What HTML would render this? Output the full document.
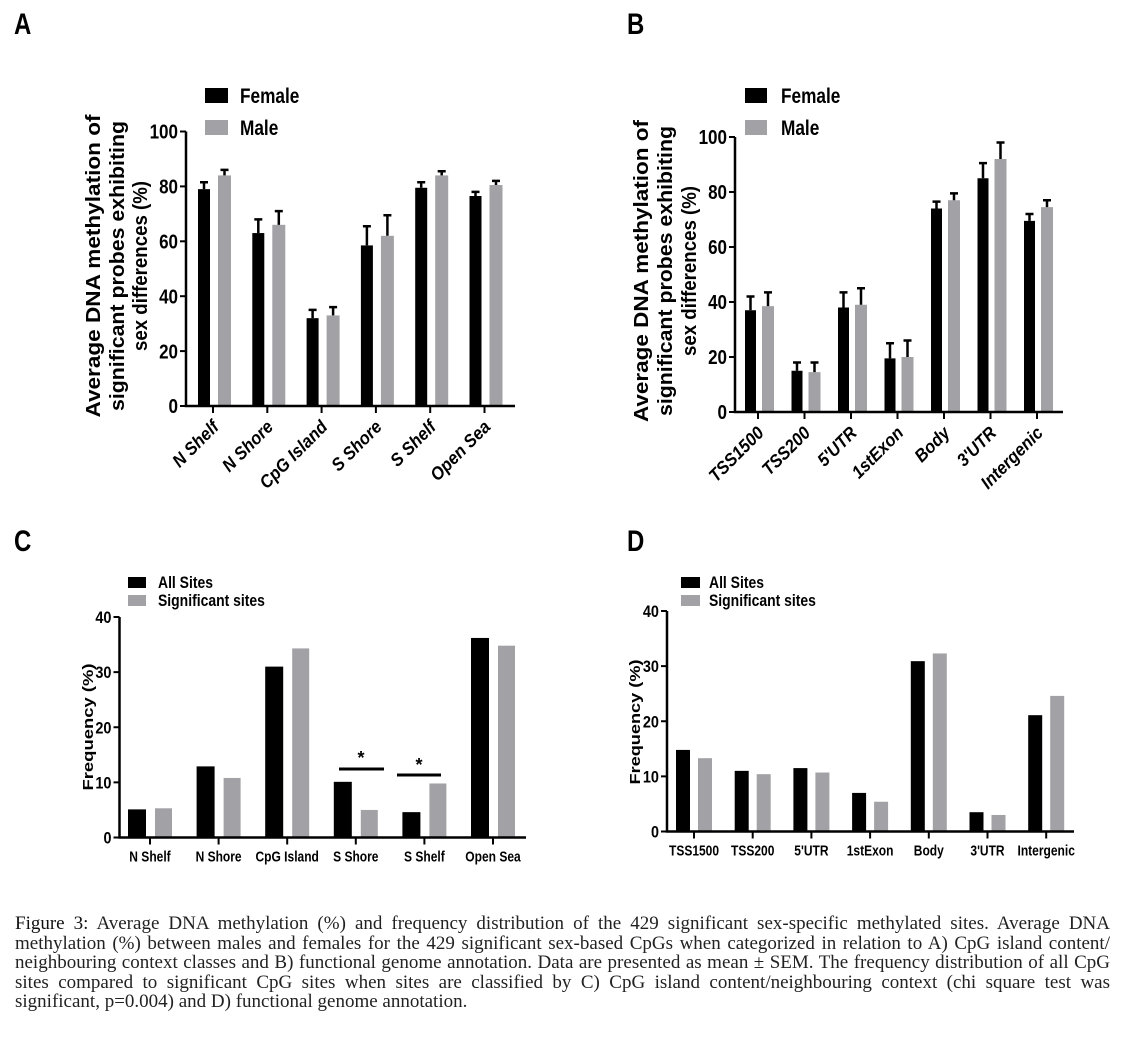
<!DOCTYPE html>
<html><head><meta charset="utf-8">
<style>
html,body{margin:0;padding:0;background:#fff;}
body{width:1125px;height:1037px;position:relative;overflow:hidden;font-family:"Liberation Sans",sans-serif;}
svg{position:absolute;left:0;top:0;}
.cap{position:absolute;left:15px;top:914px;width:1095px;font-family:"Liberation Serif",serif;font-size:19px;line-height:19.5px;color:#222;}
.cap div{text-align:justify;text-align-last:justify;white-space:nowrap;}
.cap div.last{text-align-last:left;}
.cap b{font-weight:normal;color:#111;}
</style></head>
<body>
<svg id="fig" width="1125" height="900" viewBox="0 0 1125 900"
 font-family="Liberation Sans, sans-serif" font-weight="bold"></svg>
<div class="cap">
<div><b>Figure 3:</b> Average DNA methylation (%) and frequency distribution of the 429 significant sex-specific methylated sites. Average DNA</div>
<div>methylation (%) between males and females for the 429 significant sex-based CpGs when categorized in relation to A) CpG island content/</div>
<div>neighbouring context classes and B) functional genome annotation. Data are presented as mean ± SEM. The frequency distribution of all CpG</div>
<div>sites compared to significant CpG sites when sites are classified by C) CpG island content/neighbouring context (chi square test was</div>
<div class="last">significant, p=0.004) and D) functional genome annotation.</div>
</div>
<script>
// Panel A data
const catsA = ["N Shelf","N Shore","CpG Island","S Shore","S Shelf","Open Sea"];
const femaleA = [79,63,32,58.5,79.5,76.5];
const femaleErrA = [2.5,5,3,7,2,1.5];
const maleA = [84,66,33,62,84,80.5];
const maleErrA = [2,5,3,7.5,1.5,1.5];
const ticksA = [0,20,40,60,80,100];
// Panel B data
const catsB = ["TSS1500","TSS200","5'UTR","1stExon","Body","3'UTR","Intergenic"];
const femaleB = [37,15,38,19.5,74,85,69.5];
const femaleErrB = [5,3,5.5,5.5,2.5,5.5,2.5];
const maleB = [38.5,14.5,39,20,77,92,74.5];
const maleErrB = [5,3.5,6,6,2.5,6,2.5];
const ticksB = [0,20,40,60,80,100];
// Panel C data
const catsC = ["N Shelf","N Shore","CpG Island","S Shore","S Shelf","Open Sea"];
const allC = [5.1,12.9,31,10.1,4.6,36.2];
const sigC = [5.3,10.8,34.3,5,9.8,34.8];
const ticksC = [0,10,20,30,40];
// Panel D data
const catsD = ["TSS1500","TSS200","5'UTR","1stExon","Body","3'UTR","Intergenic"];
const allD = [14.8,11,11.5,7,30.9,3.5,21.1];
const sigD = [13.3,10.4,10.7,5.4,32.3,3,24.6];
const ticksD = [0,10,20,30,40];

const NS="http://www.w3.org/2000/svg";
const svg=document.getElementById('fig');
function mk(tag,attrs,parent,text){const e=document.createElementNS(NS,tag);for(const k in attrs)e.setAttribute(k,attrs[k]);if(text!==undefined)e.textContent=text;(parent||svg).appendChild(e);return e;}
function condense(t,f){const w=t.getComputedTextLength();t.setAttribute('textLength',(w*f).toFixed(1));t.setAttribute('lengthAdjust','spacingAndGlyphs');}
const GRAY="#a2a2a6";

function panel(cfg){
  const g=mk('g',{});
  
  
  const y=v=>cfg.y0-(v/cfg.max)*(cfg.y0-cfg.yTop);
  const x=i=>cfg.t0+i*cfg.step;
  cfg.cats.forEach((c,i)=>{
    const t=x(i);
    [[cfg.s1,cfg.e1,'#000',cfg.b1],[cfg.s2,cfg.e2,GRAY,cfg.b2]].forEach((s,k)=>{
      const v=s[0][i];const bx=t+s[3][0],bw=s[3][1]-s[3][0];
      const r=mk('rect',{x:bx,y:y(v),width:bw,height:cfg.y0-y(v),fill:s[2]},g);
      
      
      if(s[1]){
        const cx=bx+bw/2,ty=y(v+s[1][i]);
        const eb=mk('path',{d:`M${cx},${y(v)}V${ty}M${cx-4},${ty}H${cx+4}`,stroke:'#000','stroke-width':2.5,fill:'none'},g);
        
        
      }
    });
    mk('line',{x1:t,x2:t,y1:cfg.y0,y2:cfg.y0+7,stroke:'#000','stroke-width':2},g);
    let lab;
    if(cfg.rot){
      lab=mk('text',{x:t+7,y:cfg.y0+22,'text-anchor':'end','font-size':18,'font-style':'italic',transform:`rotate(-45 ${t+7} ${cfg.y0+22})`},g,c);
      condense(lab,0.92);
    } else {
      lab=mk('text',{x:t,y:cfg.y0+24,'text-anchor':'middle','font-size':15},g,c);
      condense(lab,0.8);
    }
    
    
  });
  mk('path',{d:`M${cfg.ax},${cfg.yTop}V${cfg.y0}H${cfg.axEnd}`,stroke:'#000','stroke-width':2.5,fill:'none'},g);
  cfg.ticks.forEach(v=>{
    mk('line',{x1:cfg.ax-6,x2:cfg.ax,y1:y(v),y2:y(v),stroke:'#000','stroke-width':2},g);
    const tl=mk('text',{x:cfg.ax-8,y:y(v)+cfg.tfs*0.36,'text-anchor':'end','font-size':cfg.tfs},g,String(v));
    condense(tl,0.85);
    
    
  });
  cfg.ytitle.forEach((L,j)=>{
    const xx=cfg.ytx[j];
    const tt=mk('text',{x:xx,y:cfg.yty,'text-anchor':'middle','font-size':cfg.yfs,textLength:cfg.ylen[j],lengthAdjust:'spacingAndGlyphs',transform:`rotate(-90 ${xx} ${cfg.yty})`},g,L);
    
    
  });
  cfg.leg.forEach((L,j)=>{
    const ly=cfg.legY+j*cfg.legDy;
    const sq=mk('rect',{x:cfg.legX,y:ly,width:cfg.legW,height:cfg.legH,fill:j?GRAY:'#000'},g);
    
    
    const lt=mk('text',{x:cfg.legTx,y:ly+cfg.legH,'font-size':cfg.lfs},g,L);
    condense(lt,0.82);
    
    
  });
  const pl=mk('text',{x:cfg.letter[0],y:cfg.letter[1],'font-size':30},g,cfg.letterT);
  condense(pl,0.8);
  
  
  return {g,y,x};
}

const titleAB=["Average DNA methylation of","significant probes exhibiting","sex differences (%)"];
panel({name:'panel-a',cats:catsA,s1:femaleA,e1:femaleErrA,s2:maleA,e2:maleErrA,n1:'female',n2:'male',
  b1:[-15,-3],b2:[5,18],t0:213,step:54.3,y0:406,yTop:131.5,max:100,ax:186,axEnd:515,ticks:ticksA,tfs:20,rot:true,
  ytitle:titleAB,ytx:[100,124,147],ylen:[303,290,170],yty:266,yfs:20,
  leg:["Female","Male"],legX:205,legY:88,legDy:32,legW:23,legH:15,legTx:240,lfs:21,letter:[14,34],letterT:'A'});
panel({name:'panel-b',cats:catsB,s1:femaleB,e1:femaleErrB,s2:maleB,e2:maleErrB,n1:'female',n2:'male',
  b1:[-13,-2],b2:[4,16],t0:758,step:46.5,y0:412,yTop:137,max:100,ax:735,axEnd:1063,ticks:ticksB,tfs:20,rot:true,
  ytitle:titleAB,ytx:[648,672,696],ylen:[302,290,170],yty:271,yfs:20,
  leg:["Female","Male"],legX:745,legY:88,legDy:32,legW:22,legH:15,legTx:781,lfs:21,letter:[627,34],letterT:'B'});
panel({name:'panel-c',cats:catsC,s1:allC,e1:null,s2:sigC,e2:null,n1:'all-sites',n2:'significant-sites',
  b1:[-22,-4],b2:[5,22],t0:150,step:68.6,y0:837.5,yTop:617,max:40,ax:119.5,axEnd:526,ticks:ticksC,tfs:17,rot:false,
  ytitle:["Frequency (%)"],ytx:[93],ylen:[127],yty:727,yfs:15,
  leg:["All Sites","Significant sites"],legX:128,legY:577,legDy:18,legW:18,legH:11,legTx:158,lfs:17,letter:[14,551],letterT:'C'});
panel({name:'panel-d',cats:catsD,s1:allD,e1:null,s2:sigD,e2:null,n1:'all-sites',n2:'significant-sites',
  b1:[-18,-4],b2:[4,18],t0:694,step:58.7,y0:831.5,yTop:611,max:40,ax:667,axEnd:1074,ticks:ticksD,tfs:17,rot:false,
  ytitle:["Frequency (%)"],ytx:[640],ylen:[125],yty:722,yfs:15,
  leg:["All Sites","Significant sites"],legX:681,legY:577,legDy:18,legW:19,legH:11,legTx:709,lfs:17,letter:[627,551],letterT:'D'});
const sig1=mk('line',{x1:339,x2:384,y1:769,y2:769,stroke:'#000','stroke-width':3});


const st1=mk('text',{x:361,y:764,'text-anchor':'middle','font-size':18},svg,'*');


const sig2=mk('line',{x1:397,x2:441,y1:775,y2:775,stroke:'#000','stroke-width':3});


const st2=mk('text',{x:419,y:771,'text-anchor':'middle','font-size':18},svg,'*');


</script>
</body></html>
